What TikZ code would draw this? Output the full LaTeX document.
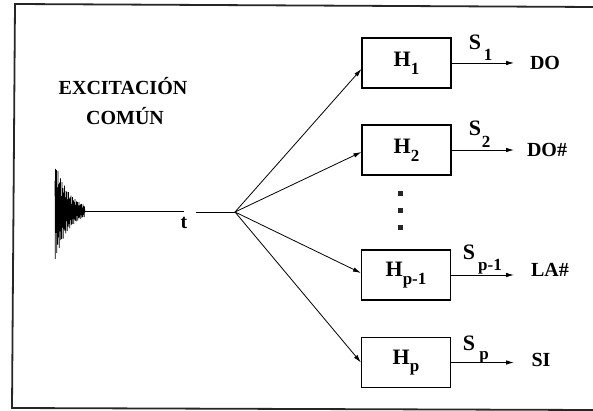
\documentclass[tikz,border=0pt]{standalone}
\usepackage{fontspec}
\setmainfont{Liberation Serif}
\usetikzlibrary{arrows.meta,calc}
\begin{document}
\begin{tikzpicture}[x=1pt,y=-1pt,
  frame/.style={line width=1.8pt, black!85},
  hbox/.style={draw, line width=1.1pt, rectangle, minimum width=89pt, minimum height=50pt, inner sep=0pt, font=\fontsize{22}{22}\selectfont\bfseries},
  conn/.style={line width=0.8pt, -{Latex[length=8pt,width=4.5pt]}},
  lbl/.style={inner sep=0pt, font=\fontsize{20}{20}\selectfont\bfseries},
  slbl/.style={inner sep=0pt, font=\fontsize{22}{22}\selectfont\bfseries},
  sub/.style={inner sep=0pt, font=\fontsize{17}{17}\selectfont\bfseries},
  sig/.style={line width=0.6pt, line join=bevel},
  dotsq/.style={fill=black!85, rectangle, minimum size=5pt, inner sep=0pt}
]
\useasboundingbox (0,0) rectangle (593,411);
% frame
\draw[frame] (593,7) -- (15,4) -- (12,408) -- (593,410);

% title
\node[lbl] (exc) at (123,86) {EXCITACIÓN};
\node[lbl] (com) at (125,116) {COMÚN};

% signal
\draw[sig] plot[domain=0:60, samples=121, variable=\k]
  ({55+\k*0.5}, {211 - 50*exp(-\k/28)*cos(360*frac(\k))*(0.6+0.4*sin(\k*137))});
\coordinate (sigend) at (184,211);
\draw[line width=0.9pt] (85,211) -- (sigend);
\node[lbl] (t) at (184,223) {t};

% junction
\coordinate (lin) at (196,212);
\coordinate (J) at (235,212);
\draw[line width=0.9pt] (lin) -- (J);

% boxes
\node[hbox] (H1) at (406.5,63) {H\raisebox{-0.35em}{\fontsize{17}{17}\selectfont 1}};
\node[hbox] (H2) at (406.5,150) {H\raisebox{-0.35em}{\fontsize{17}{17}\selectfont 2}};
\node[hbox] (Hp1) at (406,275) {H\raisebox{-0.35em}{\fontsize{17}{17}\selectfont p-1}};
\node[hbox] (Hp) at (406,362.5) {H\raisebox{-0.35em}{\fontsize{17}{17}\selectfont p}};

% fan-out arrows
\draw[conn] (J) -- ($(H1.west)+(0,6)$);
\draw[conn] (J) -- ($(H2.west)+(0,2)$);
\draw[conn] (J) -- ($(Hp1.west)+(0,-2)$);
\draw[conn] (J) -- (Hp.west);

% vertical dots
\node[dotsq] (d1) at (400,194) {};
\node[dotsq] (d2) at (400,211) {};
\node[dotsq] (d3) at (400,228) {};

% outputs
\coordinate (o1) at (514,63);
\coordinate (o2) at (514,150);
\coordinate (o3) at (514,275);
\coordinate (o4) at (514,362.5);
\draw[conn] (H1.east) -- (o1);
\draw[conn] (H2.east) -- (o2);
\draw[conn] (Hp1.east) -- (o3);
\draw[conn] (Hp.east) -- (o4);

% S labels
\node[slbl] (s1) at (475,42) {S};
\node[sub] (s1s) at (488,55) {1};
\node[slbl] (s2) at (475,128) {S};
\node[sub] (s2s) at (486,142) {2};
\node[slbl] (s3) at (469,252) {S};
\node[sub] (s3s) at (490,267) {p-1};
\node[slbl] (s4) at (469,343) {S};
\node[sub] (s4s) at (484,357) {p};

% notes
\node[lbl] (n1) at (545,63) {DO};
\node[lbl] (n2) at (547,150) {DO\#};
\node[lbl] (n3) at (550,270) {LA\#};
\node[lbl] (n4) at (541,360) {SI};
\end{tikzpicture}
\end{document}
